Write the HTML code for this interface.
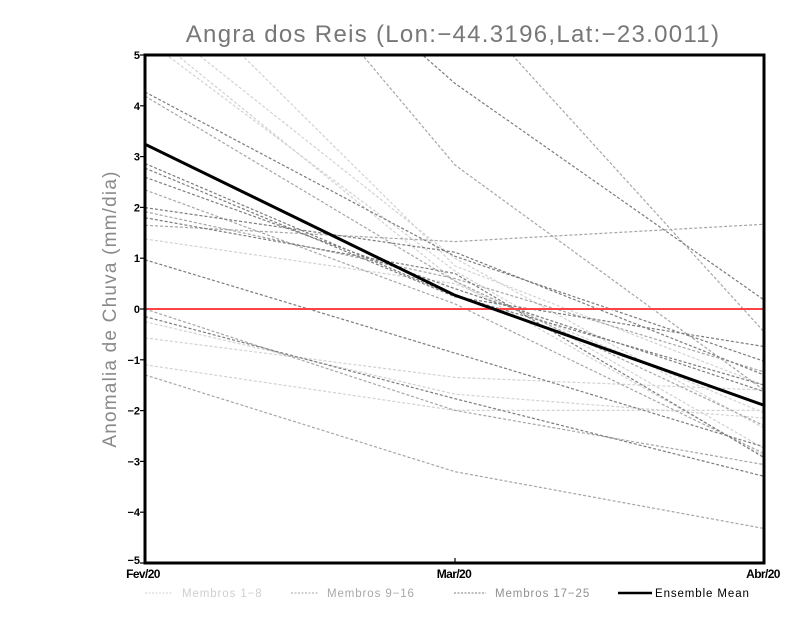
<!DOCTYPE html>
<html>
<head>
<meta charset="utf-8">
<style>
  html, body { margin: 0; padding: 0; background: #ffffff; }
  body { width: 800px; height: 618px; overflow: hidden; }
  svg { display: block; }
  .tk { font-family: "Liberation Sans", sans-serif; font-weight: bold; font-size: 11px; fill: #000; }
  .xl { font-family: "Liberation Sans", sans-serif; font-weight: bold; font-size: 12px; fill: #000; letter-spacing: -0.6px; }
  .lg { font-family: "Liberation Sans", sans-serif; font-size: 11.5px; letter-spacing: 0.9px; }
</style>
</head>
<body>
<svg width="800" height="618" viewBox="0 0 800 618" xmlns="http://www.w3.org/2000/svg">
  <defs>
    <clipPath id="pa"><rect x="145" y="55" width="619" height="508"/></clipPath>
  </defs>
  <rect x="0" y="0" width="800" height="618" fill="#fff"/>

  <!-- Title -->
  <text x="453" y="42" text-anchor="middle" font-family="Liberation Sans, sans-serif" font-size="24" fill="#777" letter-spacing="1.3">Angra dos Reis (Lon:−44.3196,Lat:−23.0011)</text>

  <!-- Y axis label -->
  <text transform="translate(116,309) rotate(-90)" text-anchor="middle" font-family="Liberation Sans, sans-serif" font-size="19" fill="#8a8a8a" letter-spacing="1.2">Anomalia de Chuva (mm/dia)</text>

  <g clip-path="url(#pa)" fill="none" stroke-width="1.2" stroke-dasharray="3,2">
    <!-- Membros 1-8 (light) -->
    <g stroke="#d2d2d2">
      <polyline points="145,38.8 455,271.0 764,448.4"/>
      <polyline points="145,29.1 455,281.1 764,456.0"/>
      <polyline points="145,12.4 455,258.3 764,428.1"/>
      <polyline points="145,-40.8 455,265.9 764,385.1"/>
      <polyline points="145,239.0 455,283.7 764,412.9"/>
      <polyline points="145,321.7 455,394.2 764,418.0"/>
      <polyline points="145,337.9 455,377.4 764,390.1"/>
      <polyline points="145,364.8 455,410.4 764,410.4"/>
    </g>
    <!-- Membros 9-16 (medium) -->
    <g stroke="#a6a6a6">
      <polyline points="145,-203.1 455,165.0 764,390.1"/>
      <polyline points="145,-147.3 455,-7.9 764,331.8"/>
      <polyline points="145,96.1 455,281.1 764,425.6"/>
      <polyline points="145,189.9 455,303.9 764,453.5"/>
      <polyline points="145,211.7 455,278.6 764,371.9"/>
      <polyline points="145,225.3 455,241.6 764,224.3"/>
      <polyline points="145,309.0 455,410.4 764,464.6"/>
      <polyline points="145,374.9 455,471.7 764,528.5"/>
    </g>
    <!-- Membros 17-25 (dark) -->
    <g stroke="#7c7c7c">
      <polyline points="145,-187.9 455,83.4 764,299.9"/>
      <polyline points="145,92.0 455,256.3 764,361.2"/>
      <polyline points="145,163.5 455,295.8 764,385.1"/>
      <polyline points="145,168.1 455,296.8 764,346.5"/>
      <polyline points="145,177.2 455,288.7 764,391.6"/>
      <polyline points="145,207.6 455,252.2 764,374.9"/>
      <polyline points="145,217.7 455,273.5 764,457.6"/>
      <polyline points="145,259.8 455,353.1 764,446.9"/>
      <polyline points="145,316.6 455,398.7 764,476.3"/>
    </g>
  </g>

  <!-- Zero line -->
  <line x1="145" y1="309" x2="764" y2="309" stroke="#ff4444" stroke-width="2"/>

  <!-- Ensemble mean -->
  <polyline points="145,144.2 455,295.3 764,405.3" fill="none" stroke="#000" stroke-width="3" clip-path="url(#pa)"/>

  <!-- Frame -->
  <rect x="145" y="55" width="619" height="508" fill="none" stroke="#000" stroke-width="3"/>

  <!-- Y ticks -->
  <g stroke="#000" stroke-width="1.2">
    <line x1="140" y1="55" x2="145" y2="55"/>
    <line x1="140" y1="105.8" x2="145" y2="105.8"/>
    <line x1="140" y1="156.6" x2="145" y2="156.6"/>
    <line x1="140" y1="207.4" x2="145" y2="207.4"/>
    <line x1="140" y1="258.2" x2="145" y2="258.2"/>
    <line x1="140" y1="309" x2="145" y2="309"/>
    <line x1="140" y1="359.8" x2="145" y2="359.8"/>
    <line x1="140" y1="410.6" x2="145" y2="410.6"/>
    <line x1="140" y1="461.4" x2="145" y2="461.4"/>
    <line x1="140" y1="512.2" x2="145" y2="512.2"/>
    <line x1="140" y1="563" x2="145" y2="563"/>
    <line x1="455" y1="563" x2="455" y2="558"/>
  </g>
  <g class="tk" text-anchor="end">
    <text x="140" y="59">5</text>
    <text x="140" y="109.8">4</text>
    <text x="140" y="160.6">3</text>
    <text x="140" y="211.4">2</text>
    <text x="140" y="262.2">1</text>
    <text x="140" y="313">0</text>
    <text x="140" y="363.8">−1</text>
    <text x="140" y="414.6">−2</text>
    <text x="140" y="465.4">−3</text>
    <text x="140" y="516.2">−4</text>
    <text x="140" y="564">−5</text>
  </g>

  <!-- X labels -->
  <g class="xl" text-anchor="middle">
    <text x="143" y="578">Fev/20</text>
    <text x="454" y="578">Mar/20</text>
    <text x="763" y="578">Abr/20</text>
  </g>

  <!-- Legend -->
  <g stroke-width="1" fill="none" stroke-dasharray="2,1.5">
    <line x1="145" y1="593" x2="172" y2="593" stroke="#d2d2d2"/>
    <line x1="291" y1="593" x2="318" y2="593" stroke="#a6a6a6"/>
    <line x1="454" y1="593" x2="486" y2="593" stroke="#7c7c7c"/>
  </g>
  <line x1="618" y1="593" x2="652" y2="593" stroke="#000" stroke-width="2.5"/>
  <text class="lg" x="182" y="597" fill="#cfcfcf">Membros 1−8</text>
  <text class="lg" x="327" y="597" fill="#a8a8a8">Membros 9−16</text>
  <text class="lg" x="495" y="597" fill="#909090">Membros 17−25</text>
  <text class="lg" x="655" y="597" fill="#000">Ensemble Mean</text>
</svg>
</body>
</html>
